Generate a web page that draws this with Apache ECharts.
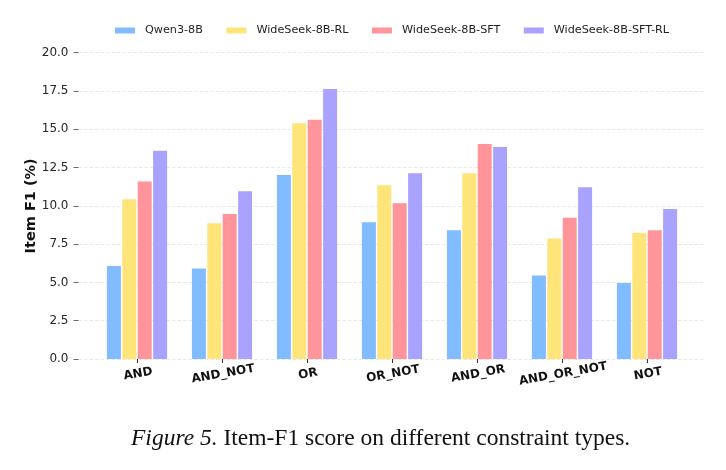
<!DOCTYPE html>
<html>
<head>
<meta charset="utf-8">
<script src="https://cdn.jsdelivr.net/npm/echarts@6/dist/echarts.min.js"></script>
<style>
html,body{margin:0;padding:0;background:#fff;}
#chart{width:726px;height:470px;}
</style>
</head>
<body>
<div id="chart"></div>
<script>
const categories = ['AND', 'AND_NOT', 'OR', 'OR_NOT', 'AND_OR', 'AND_OR_NOT', 'NOT'];
const seriesNames = ['Qwen3-8B', 'WideSeek-8B-RL', 'WideSeek-8B-SFT', 'WideSeek-8B-SFT-RL'];
const qwen = [6.07, 5.91, 12.02, 8.93, 8.41, 5.46, 4.96];
const wsRL = [10.43, 8.87, 15.39, 11.35, 12.13, 7.87, 8.24];
const wsSFT = [11.59, 9.46, 15.63, 10.17, 14.04, 9.22, 8.41];
const wsSFTRL = [13.59, 10.96, 17.63, 12.13, 13.85, 11.22, 9.80];
const yTicks = [0, 2.5, 5, 7.5, 10, 12.5, 15, 17.5, 20];
const colors = ['#80BCFF', '#FFE47A', '#FF949A', '#A9A3FF'];
const values = [qwen, wsRL, wsSFT, wsSFTRL];

const chart = echarts.init(document.getElementById('chart'), null, {renderer: 'canvas'});
const font = 'DejaVu Sans';
const yMin = yTicks[0], yMax = yTicks[yTicks.length - 1], yInt = yTicks[1] - yTicks[0];

const option = {
  animation: false,
  backgroundColor: '#fff',
  textStyle: {fontFamily: font},
  title: {
    text: '{i|Figure 5.} Item-F1 score on different constraint types.',
    left: 126,
    top: 422,
    textStyle: {
      fontFamily: 'Liberation Serif',
      fontSize: 23.5,
      fontWeight: 'normal',
      color: '#111',
      rich: {
        i: {fontFamily: 'Liberation Serif', fontStyle: 'italic', fontSize: 23.5, color: '#111'}
      }
    }
  },
  legend: {
    data: seriesNames,
    left: 110,
    top: 20,
    icon: 'rect',
    itemWidth: 20,
    itemHeight: 6,
    itemGap: 23.5,
    textStyle: {fontFamily: font, fontSize: 11.2, color: '#222', padding: [0, 0, 0, 5]}
  },
  grid: [
    {left: 94.5, right: 36.5, top: 52.7, bottom: 111, containLabel: false},
    {left: 78.5, right: 21, top: 52.7, bottom: 111, containLabel: false}
  ],
  xAxis: [
    {
      type: 'category',
      gridIndex: 0,
      data: categories,
      axisLine: {show: false},
      axisTick: {show: true, alignWithLabel: true, length: 4, lineStyle: {color: '#333', width: 1}},
      axisLabel: {
        interval: 0,
        rotate: 10, margin: 9, align: 'center', verticalAlign: 'top',
        fontFamily: font, fontSize: 12, fontWeight: 'bold', color: '#111'
      }
    },
    {type: 'value', gridIndex: 1, show: false, min: 0, max: 1}
  ],
  yAxis: [
    {
      type: 'value', gridIndex: 0, min: yMin, max: yMax, interval: yInt,
      show: false
    },
    {
      type: 'value', gridIndex: 1, min: yMin, max: yMax, interval: yInt,
      name: 'Item F1 (%)',
      nameLocation: 'middle',
      nameGap: 40,
      nameMoveOverlap: false,
      nameTextStyle: {fontFamily: font, fontSize: 14.5, fontWeight: 'bold', color: '#111'},
      axisLine: {show: false},
      axisTick: {show: true, length: 5, lineStyle: {color: '#444', width: 0.8}},
      axisLabel: {
        margin: 10, fontFamily: font, fontSize: 12, color: '#262626',
        formatter: v => v.toFixed(1)
      },
      splitLine: {show: true, lineStyle: {color: '#e2e2e2', width: 0.8, type: [3.5, 2]}}
    }
  ],
  series: seriesNames.map((name, i) => ({
    name: name,
    type: 'bar',
    xAxisIndex: 0,
    yAxisIndex: 0,
    data: values[i],
    barWidth: 14,
    barGap: '10%',
    itemStyle: {color: colors[i]},
    z: 3
  }))
};
chart.setOption(option);
</script>
</body>
</html>
